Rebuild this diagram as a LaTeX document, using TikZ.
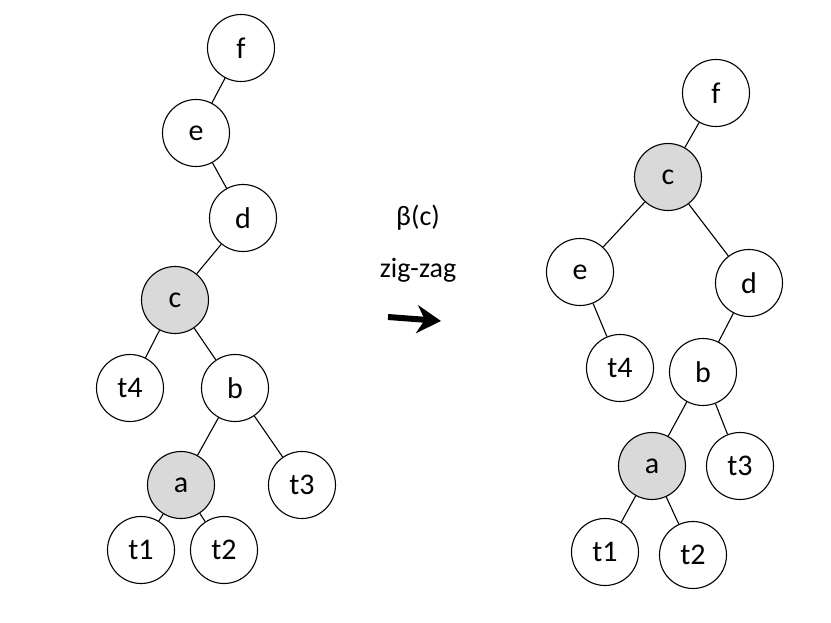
\documentclass[tikz,border=0pt]{standalone}
\usepackage{fontspec}
\setmainfont{Carlito}
\usetikzlibrary{arrows.meta}

\begin{document}
\begin{tikzpicture}[x=1pt, y=-1pt,
    tnode/.style={circle, draw, line width=1.1pt, minimum size=67pt, inner sep=0pt, font=\fontsize{30pt}{34pt}\selectfont},
    hnode/.style={tnode, fill=gray!30},
    edge/.style={line width=1.1pt}]
\useasboundingbox (0,0) rectangle (831,623);

% tree before the rotation
\node[tnode] (lf) at (241,48) {f};
\node[tnode] (le) at (196,133) {e};
\node[tnode] (ld) at (243,218) {d};
\node[hnode] (lc) at (175,300) {c};
\node[tnode] (lt4) at (130,388) {t4};
\node[tnode] (lb) at (235,388) {b};
\node[hnode] (la) at (181,485) {a};
\node[tnode] (lt3) at (302,485) {t3};
\node[tnode] (lt1) at (141,550) {t1};
\node[tnode] (lt2) at (224,550) {t2};

\draw[edge] (lf) -- (le);
\draw[edge] (le) -- (ld);
\draw[edge] (ld) -- (lc);
\draw[edge] (lc) -- (lt4);
\draw[edge] (lc) -- (lb);
\draw[edge] (lb) -- (la);
\draw[edge] (lb) -- (lt3);
\draw[edge] (la) -- (lt1);
\draw[edge] (la) -- (lt2);

% label and arrow
\node[font=\fontsize{28pt}{32pt}\selectfont] (op) at (418,218) {β(c)};
\node[font=\fontsize{28pt}{32pt}\selectfont] (zz) at (418,270) {zig-zag};
\coordinate (as) at (388,317);
\coordinate (ae) at (441,321);
\draw[line width=6pt, -{Stealth[length=24pt, width=28pt]}] (as) -- (ae);

% tree after the rotation
\node[tnode] (rf) at (716,93) {f};
\node[hnode] (rc) at (668,177) {c};
\node[tnode] (re) at (580,272) {e};
\node[tnode] (rd) at (749,283) {d};
\node[tnode] (rt4) at (620,368) {t4};
\node[tnode] (rb) at (703,372) {b};
\node[hnode] (ra) at (652,466) {a};
\node[tnode] (rt3) at (740,466) {t3};
\node[tnode] (rt1) at (605,552) {t1};
\node[tnode] (rt2) at (693,555) {t2};

\draw[edge] (rf) -- (rc);
\draw[edge] (rc) -- (re);
\draw[edge] (rc) -- (rd);
\draw[edge] (re) -- (rt4);
\draw[edge] (rd) -- (rb);
\draw[edge] (rb) -- (ra);
\draw[edge] (rb) -- (rt3);
\draw[edge] (ra) -- (rt1);
\draw[edge] (ra) -- (rt2);

\end{tikzpicture}
\end{document}
